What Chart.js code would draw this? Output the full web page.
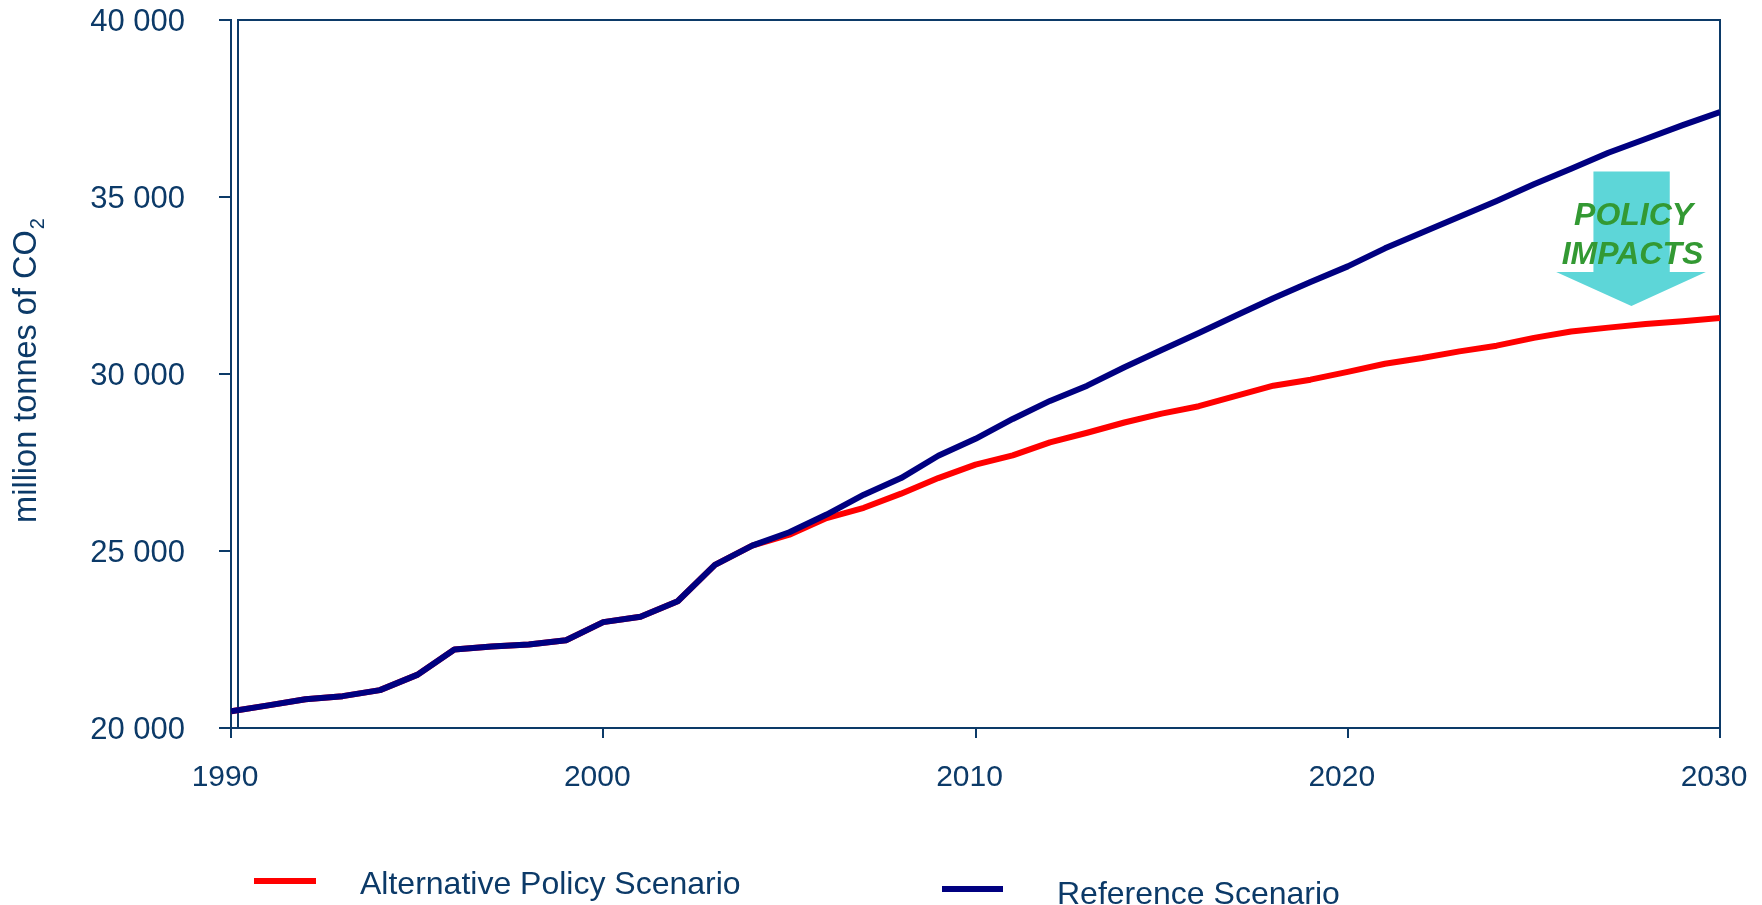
<!DOCTYPE html>
<html>
<head>
<meta charset="utf-8">
<script src="https://cdn.jsdelivr.net/npm/chart.js@4/dist/chart.umd.min.js"></script>
<style>
  html, body { margin: 0; padding: 0; background: #ffffff; }
  canvas { display: block; }
</style>
</head>
<body>
<canvas id="c" width="1762" height="905"></canvas>
<script>
// ---- data ----
const years = [1990,1991,1992,1993,1994,1995,1996,1997,1998,1999,
               2000,2001,2002,2003,2004,2005,2006,2007,2008,2009,
               2010,2011,2012,2013,2014,2015,2016,2017,2018,2019,
               2020,2021,2022,2023,2024,2025,2026,2027,2028,2029,2030];

const referenceScenario = [20470,20640,20810,20900,21070,21500,22220,22300,22360,22480,
                           22990,23140,23580,24610,25150,25530,26030,26590,27060,27690,
                           28170,28730,29240,29670,30190,30680,31160,31650,32140,32600,
                           33040,33550,34000,34440,34890,35360,35800,36250,36640,37030,37400];

const alternativeScenario = [20470,20640,20810,20900,21070,21500,22220,22300,22360,22480,
                             22990,23140,23580,24610,25150,25460,25930,26220,26620,27060,
                             27440,27700,28070,28340,28630,28880,29090,29380,29670,29840,
                             30060,30290,30450,30640,30800,31020,31200,31310,31410,31490,31580];

const seriesLabels = ['Alternative Policy Scenario', 'Reference Scenario'];
const yTitleMain = 'million tonnes of CO';
const yTitleSub = '2';
const annotationLines = ['POLICY', 'IMPACTS'];

const xTicks = [1990, 2000, 2010, 2020, 2030];
const yTicks = [20000, 25000, 30000, 35000, 40000];

// ---- styles ----
const AXIS = '#0c3a68';
const FONT = "'Liberation Sans', Arial, sans-serif";

function fmtThousands(v) {
  return String(v).replace(/\B(?=(\d{3})+(?!\d))/g, ' ');
}

function noPad(scale) {
  scale.paddingTop = 0; scale.paddingBottom = 0;
  scale.paddingLeft = 0; scale.paddingRight = 0;
}

const framePlugin = {
  id: 'frame',
  beforeDatasetsDraw(chart) {
    const {ctx, chartArea: a} = chart;
    ctx.save();
    ctx.strokeStyle = AXIS;
    ctx.lineWidth = 2;
    ctx.beginPath();
    ctx.moveTo(a.left + 7, a.bottom);
    ctx.lineTo(a.left + 7, a.top);
    ctx.lineTo(a.right, a.top);
    ctx.lineTo(a.right, a.bottom);
    ctx.stroke();
    ctx.restore();
  }
};

const arrowPlugin = {
  id: 'policyArrow',
  afterDatasetsDraw(chart) {
    const {ctx} = chart;
    const xs = chart.scales.x, ys = chart.scales.y;
    const X = v => xs.getPixelForValue(v), Y = v => ys.getPixelForValue(v);
    ctx.save();
    ctx.fillStyle = '#5dd6d8';
    ctx.beginPath();
    ctx.moveTo(X(2026.6), Y(35720));
    ctx.lineTo(X(2028.65), Y(35720));
    ctx.lineTo(X(2028.65), Y(32880));
    ctx.lineTo(X(2029.62), Y(32880));
    ctx.lineTo(X(2027.62), Y(31920));
    ctx.lineTo(X(2025.6), Y(32880));
    ctx.lineTo(X(2026.6), Y(32880));
    ctx.closePath();
    ctx.fill();
    ctx.fillStyle = '#339933';
    ctx.font = "italic bold 32px " + FONT;
    ctx.textAlign = 'center';
    ctx.textBaseline = 'middle';
    ctx.fillText(annotationLines[0], X(2027.68), Y(34450));
    ctx.fillText(annotationLines[1], X(2027.65), Y(33370));
    ctx.restore();
  }
};

const yTitlePlugin = {
  id: 'yTitle',
  afterDraw(chart) {
    const {ctx, chartArea: a} = chart;
    ctx.save();
    ctx.fillStyle = AXIS;
    ctx.translate(36, (a.top + a.bottom) / 2 - 3);
    ctx.rotate(-Math.PI / 2);
    ctx.font = "32.5px " + FONT;
    const w1 = ctx.measureText(yTitleMain).width;
    ctx.font = "20px " + FONT;
    const w2 = ctx.measureText(yTitleSub).width;
    const start = -(w1 + w2) / 2;
    ctx.textBaseline = 'alphabetic';
    ctx.textAlign = 'left';
    ctx.font = "32.5px " + FONT;
    ctx.fillText(yTitleMain, start, 0);
    ctx.font = "20px " + FONT;
    ctx.fillText(yTitleSub, start + w1 + 1, 8);
    ctx.restore();
  }
};

const legendPlugin = {
  id: 'customLegend',
  afterDraw(chart) {
    const {ctx} = chart;
    const ds = chart.data.datasets;
    const items = [
      {ds: ds[0], x0: 254, x1: 316, ly: 881, tx: 360, ty: 885},
      {ds: ds[1], x0: 942, x1: 1003, ly: 889, tx: 1057, ty: 895}
    ];
    ctx.save();
    items.forEach(it => {
      ctx.strokeStyle = it.ds.borderColor;
      ctx.lineWidth = 6;
      ctx.beginPath();
      ctx.moveTo(it.x0, it.ly);
      ctx.lineTo(it.x1, it.ly);
      ctx.stroke();
      ctx.fillStyle = AXIS;
      ctx.font = "32px " + FONT;
      ctx.textAlign = 'left';
      ctx.textBaseline = 'middle';
      ctx.fillText(it.ds.label, it.tx, it.ty);
    });
    ctx.restore();
  }
};

new Chart(document.getElementById('c'), {
  type: 'line',
  data: {
    datasets: [
      {
        label: seriesLabels[0],
        data: years.map((y, i) => ({x: y, y: alternativeScenario[i]})),
        borderColor: '#ff0000',
        backgroundColor: '#ff0000',
        borderWidth: 6,
        pointRadius: 0,
        tension: 0,
        order: 1,
        borderJoinStyle: 'round'
      },
      {
        label: seriesLabels[1],
        data: years.map((y, i) => ({x: y, y: referenceScenario[i]})),
        borderColor: '#000080',
        backgroundColor: '#000080',
        borderWidth: 6,
        pointRadius: 0,
        tension: 0,
        order: 0,
        borderJoinStyle: 'round'
      }
    ]
  },
  options: {
    responsive: false,
    animation: false,
    devicePixelRatio: 1,
    layout: { padding: { top: 20, right: 42, bottom: 0, left: 0 } },
    plugins: { legend: { display: false }, tooltip: { enabled: false }, title: { display: false } },
    scales: {
      x: {
        type: 'linear',
        min: xTicks[0],
        max: xTicks[xTicks.length - 1],
        afterBuildTicks(scale) { scale.ticks = xTicks.map(v => ({value: v})); },
        afterFit(scale) { scale.height = 177; noPad(scale); },
        ticks: {
          color: AXIS,
          font: { family: FONT, size: 30 },
          padding: 22,
          labelOffset: -6,
          maxRotation: 0,
          callback: v => String(v)
        },
        grid: { drawOnChartArea: false, drawTicks: true, tickLength: 10, color: AXIS, lineWidth: 2 },
        border: { display: true, color: AXIS, width: 2 }
      },
      y: {
        type: 'linear',
        min: yTicks[0],
        max: yTicks[yTicks.length - 1],
        afterBuildTicks(scale) { scale.ticks = yTicks.map(v => ({value: v})); },
        afterFit(scale) { scale.width = 231; noPad(scale); },
        ticks: {
          color: AXIS,
          font: { family: FONT, size: 31 },
          padding: 34,
          labelOffset: 2,
          callback: v => fmtThousands(v)
        },
        grid: { drawOnChartArea: false, drawTicks: true, tickLength: 12, color: AXIS, lineWidth: 2 },
        border: { display: true, color: AXIS, width: 2 }
      }
    }
  },
  plugins: [framePlugin, arrowPlugin, yTitlePlugin, legendPlugin]
});
</script>
</body>
</html>
